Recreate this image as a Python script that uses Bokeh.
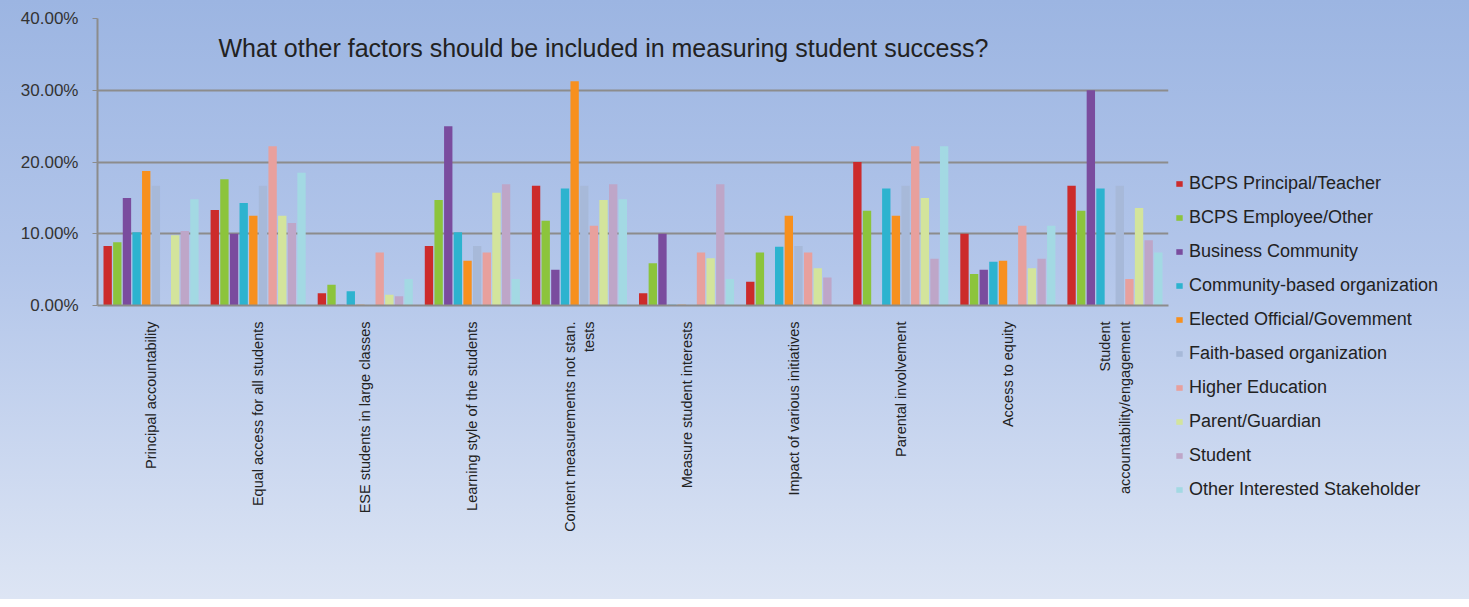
from bokeh.plotting import figure
from bokeh.models import ColumnDataSource, FactorRange, NumeralTickFormatter, Legend, LegendItem, Label
from bokeh.transform import dodge
from bokeh.embed import file_html
from bokeh.resources import INLINE
import math

categories = [
    "Principal accountability",
    "Equal access for all students",
    "ESE students in large classes",
    "Learning style of the students",
    "Content measurements not stan.\ntests",
    "Measure student interests",
    "Impact of various initiatives",
    "Parental involvement",
    "Access to equity",
    "Student\naccountability/engagement",
]

series_names = [
    "BCPS Principal/Teacher",
    "BCPS Employee/Other",
    "Business Community",
    "Community-based organization",
    "Elected Official/Govemment",
    "Faith-based organization",
    "Higher Education",
    "Parent/Guardian",
    "Student",
    "Other Interested Stakeholder",
]

colors = ["#cc2b2b", "#8cc43c", "#7a4c9e", "#2db3cf", "#f7901e",
          "#a7b9d9", "#e8a09d", "#d3e49c", "#bea6c8", "#a3d9e3"]

principal_teacher = [0.083, 0.133, 0.017, 0.083, 0.167, 0.017, 0.033, 0.200, 0.100, 0.167]
employee_other    = [0.088, 0.176, 0.029, 0.147, 0.118, 0.059, 0.074, 0.132, 0.044, 0.132]
business          = [0.150, 0.100, 0.001, 0.250, 0.050, 0.100, 0.000, 0.000, 0.050, 0.300]
community_org     = [0.102, 0.143, 0.020, 0.102, 0.163, 0.001, 0.082, 0.163, 0.061, 0.163]
elected_official  = [0.1875, 0.125, 0.001, 0.0625, 0.3125, 0.001, 0.125, 0.125, 0.0625, 0.000]
faith_org         = [0.167, 0.167, 0.000, 0.083, 0.167, 0.000, 0.083, 0.167, 0.000, 0.167]
higher_ed         = [0.000, 0.222, 0.074, 0.074, 0.111, 0.074, 0.074, 0.222, 0.111, 0.037]
parent_guardian   = [0.098, 0.125, 0.015, 0.157, 0.147, 0.066, 0.052, 0.150, 0.052, 0.136]
student           = [0.104, 0.115, 0.013, 0.169, 0.169, 0.169, 0.039, 0.065, 0.065, 0.091]
other_stake       = [0.148, 0.185, 0.037, 0.037, 0.148, 0.037, 0.000, 0.222, 0.111, 0.074]

series_values = [principal_teacher, employee_other, business, community_org, elected_official,
                 faith_org, higher_ed, parent_guardian, student, other_stake]

y_ticks = [0, 0.1, 0.2, 0.3, 0.4]

data = {"cat": categories}
for i, vals in enumerate(series_values):
    data["s%d" % i] = vals
source = ColumnDataSource(data)

FONT = "Liberation Sans"

p = figure(x_range=FactorRange(*categories), y_range=(0, 0.4),
           frame_width=1071, frame_height=287, output_backend="svg", toolbar_location=None,
           min_border_left=97, min_border_right=0, min_border_top=18, min_border_bottom=294)
p.styles = {"background": "linear-gradient(180deg, #9cb5e2 0%, #b3c6ea 45%, #dde5f4 100%)"}
p.background_fill_alpha = 0
p.border_fill_alpha = 0
p.outline_line_color = None

step = 0.09
bw = 0.078
items = []
for i, name in enumerate(series_names):
    off = (i - 4.5) * step
    r = p.vbar(x=dodge("cat", off, range=p.x_range), top="s%d" % i, width=bw,
               source=source, fill_color=colors[i], line_color=None)
    items.append(LegendItem(label=name, renderers=[r]))

legend = Legend(items=items, location=(7, -195), orientation="vertical",
                background_fill_alpha=0, border_line_color=None,
                label_text_font=FONT, label_text_font_size="18px", label_text_color="#222222",
                glyph_width=8, glyph_height=7, label_height=21, spacing=13,
                padding=0, margin=0, label_standoff=6)
p.add_layout(legend, "right")

p.yaxis.ticker = y_ticks
p.yaxis.formatter = NumeralTickFormatter(format="0.00%")
p.yaxis.major_label_text_font = FONT
p.yaxis.major_label_text_font_size = "17px"
p.yaxis.major_label_text_color = "#333333"
p.yaxis.axis_line_color = "#8c8c8c"
p.yaxis.axis_line_width = 2
p.yaxis.major_tick_line_color = "#8c8c8c"
p.yaxis.major_tick_in = 0
p.yaxis.major_tick_out = 5
p.yaxis.minor_tick_line_color = None
p.yaxis.major_label_standoff = 14

p.xaxis.major_label_orientation = math.pi / 2
p.xaxis.major_label_text_font = FONT
p.xaxis.major_label_text_font_size = "14.5px"
p.xaxis.major_label_text_color = "#222222"
p.xaxis.axis_line_color = "#8c8c8c"
p.xaxis.axis_line_width = 2
p.xaxis.major_tick_line_color = None
p.xaxis.major_label_standoff = 10

p.xgrid.grid_line_color = None
p.ygrid.grid_line_color = "#8c8c8c"
p.ygrid.grid_line_width = 2

title = Label(x=121, y=258, x_units="screen", y_units="screen",
              text="What other factors should be included in measuring student success?",
              text_font=FONT, text_font_size="25px", text_color="#222222",
              text_baseline="middle")
p.add_layout(title)

open("out.html", "w").write(file_html(p, INLINE))
